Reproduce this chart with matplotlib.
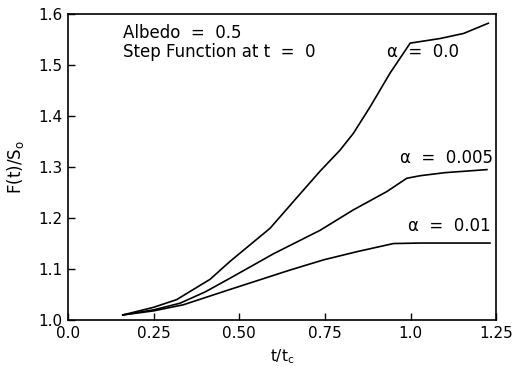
import matplotlib
matplotlib.use("Agg")
import matplotlib.pyplot as plt

# === Datos ===
t_a0 = [0.16, 0.25, 0.317, 0.415, 0.473, 0.59, 0.668, 0.736, 0.794, 0.833,
        0.882, 0.940, 0.999, 1.086, 1.155, 1.227]
f_a0 = [1.010, 1.025, 1.040, 1.080, 1.115, 1.180, 1.240, 1.292, 1.333, 1.366,
        1.418, 1.484, 1.543, 1.552, 1.562, 1.582]

t_a005 = [0.16, 0.25, 0.327, 0.40, 0.473, 0.60, 0.736, 0.833, 0.931, 0.989,
          1.028, 1.10, 1.223]
f_a005 = [1.010, 1.020, 1.033, 1.055, 1.082, 1.130, 1.176, 1.216, 1.252, 1.278,
          1.283, 1.289, 1.295]

t_a01 = [0.16, 0.25, 0.337, 0.473, 0.648, 0.746, 0.843, 0.950, 1.028, 1.232]
f_a01 = [1.010, 1.018, 1.030, 1.060, 1.098, 1.118, 1.134, 1.150, 1.151, 1.151]

xticks = [0.0, 0.25, 0.50, 0.75, 1.0, 1.25]
xlabels = ["0.0", "0.25", "0.50", "0.75", "1.0", "1.25"]
yticks = [1.0, 1.1, 1.2, 1.3, 1.4, 1.5, 1.6]
ylabels = ["1.0", "1.1", "1.2", "1.3", "1.4", "1.5", "1.6"]

plt.rcParams["font.family"] = ["DejaVu Sans"]

fig = plt.figure(figsize=(5.19, 3.70), dpi=100)
ax = fig.add_axes([0.131, 0.135, 0.825, 0.827])

for t, f in [(t_a0, f_a0), (t_a005, f_a005), (t_a01, f_a01)]:
    ax.plot(t, f, color="black", lw=1.2)

ax.set_xlim(0.0, 1.25)
ax.set_ylim(1.0, 1.6)
ax.set_xticks(xticks)
ax.set_xticklabels(xlabels)
ax.set_yticks(yticks)
ax.set_yticklabels(ylabels)
ax.tick_params(direction="in", length=5, width=1, labelsize=11, pad=4)
for s in ax.spines.values():
    s.set_linewidth(1.2)

ax.set_xlabel("t/t$_\\mathregular{c}$", fontsize=11, labelpad=5)
ax.set_ylabel("F(t)/S$_\\mathregular{o}$", fontsize=12, labelpad=9)

ax.text(0.161, 1.563, "Albedo  =  0.5", fontsize=12, va="center")
ax.text(0.161, 1.525, "Step Function at t  =  0", fontsize=12, va="center")
ax.text(0.932, 1.525, "α  =  0.0", fontsize=12, va="center")
ax.text(0.970, 1.318, "α  =  0.005", fontsize=12, va="center")
ax.text(0.993, 1.184, "α  =  0.01", fontsize=12, va="center")

fig.savefig("out.png", dpi=100)
